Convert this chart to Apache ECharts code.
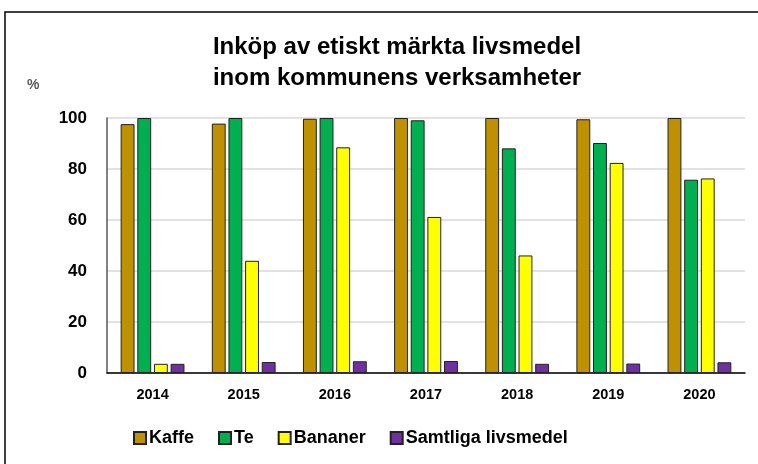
<!DOCTYPE html>
<html>
<head>
<meta charset="utf-8">
<script src="https://cdn.jsdelivr.net/npm/echarts@6/dist/echarts.min.js"></script>
<style>
    html, body { margin: 0; padding: 0; background: #fff; }
    #chart { width: 758px; height: 464px; }
</style>
</head>
<body>
<div id="chart"></div>
<script>
    // kategorier och värden (procent)
    const years = ['2014', '2015', '2016', '2017', '2018', '2019', '2020'];
    const kaffe = [97.6, 97.8, 99.7, 100, 100, 99.5, 100];
    const te = [100, 100, 100, 99.1, 88.1, 90.2, 75.8];
    const bananer = [3.6, 44.0, 88.5, 61.2, 46.1, 82.4, 76.3];
    const samtliga = [3.6, 4.3, 4.6, 4.7, 3.6, 3.7, 4.2];
    const seriesNames = ['Kaffe', 'Te', 'Bananer', 'Samtliga livsmedel'];
    const colors = ['#BF9000', '#00B050', '#FFFF00', '#7030A0'];

    const font = 'Liberation Sans';

    const chart = echarts.init(document.getElementById('chart'));

    const values = [kaffe, te, bananer, samtliga];
    let series = values.map(function (data, i) {
        return {
            name: seriesNames[i],
            type: 'bar',
            data: data,
            barGap: '20%',
            barCategoryGap: '30%',
            itemStyle: {
                color: colors[i],
                borderColor: '#222',
                borderWidth: 1
            }
        };
    });

    chart.setOption({
        backgroundColor: '#fff',
        animation: false,
        color: colors,
        title: {
            text: 'Inköp av etiskt märkta livsmedel\ninom kommunens verksamheter',
            left: 392,
            textAlign: 'center',
            top: 27,
            textStyle: {
                fontFamily: font,
                fontWeight: 'bold',
                fontSize: 24,
                lineHeight: 31,
                color: '#000'
            }
        },
        graphic: [
            {
                type: 'rect',
                shape: { x: 5, y: 12, width: 800, height: 500 },
                style: { fill: 'none', stroke: '#000', lineWidth: 1.5 },
                silent: true
            },
            {
                type: 'text',
                left: 27,
                top: 78,
                style: {
                    text: '%',
                    fontFamily: font,
                    fontWeight: 'bold',
                    fontSize: 14,
                    fill: '#595959'
                }
            }
        ],
        legend: {
            data: seriesNames,
            left: 128,
            top: 424,
            icon: 'rect',
            itemWidth: 12,
            itemHeight: 12,
            itemGap: 24,
            textStyle: {
                fontFamily: font,
                fontWeight: 'bold',
                fontSize: 18,
                color: '#000',
                padding: [0, 0, 0, -2]
            }
        },
        grid: {
            left: 107,
            right: 13,
            top: 118,
            bottom: 91,
            containLabel: false
        },
        xAxis: {
            type: 'category',
            data: years,
            axisLine: { lineStyle: { color: '#000', width: 1.5 } },
            axisTick: { show: false },
            axisLabel: {
                margin: 14,
                fontFamily: font,
                fontWeight: 'bold',
                fontSize: 14.5,
                color: '#000'
            }
        },
        yAxis: {
            type: 'value',
            min: 0,
            max: 100,
            interval: 20,
            axisLine: { show: true, lineStyle: { color: '#595959', width: 1.5 } },
            axisTick: { show: false },
            splitLine: { lineStyle: { color: '#d9d9d9', width: 1.5 } },
            axisLabel: {
                margin: 20,
                fontFamily: font,
                fontWeight: 'bold',
                fontSize: 17,
                color: '#000'
            }
        },
        series: series
    });
</script>
</body>
</html>
